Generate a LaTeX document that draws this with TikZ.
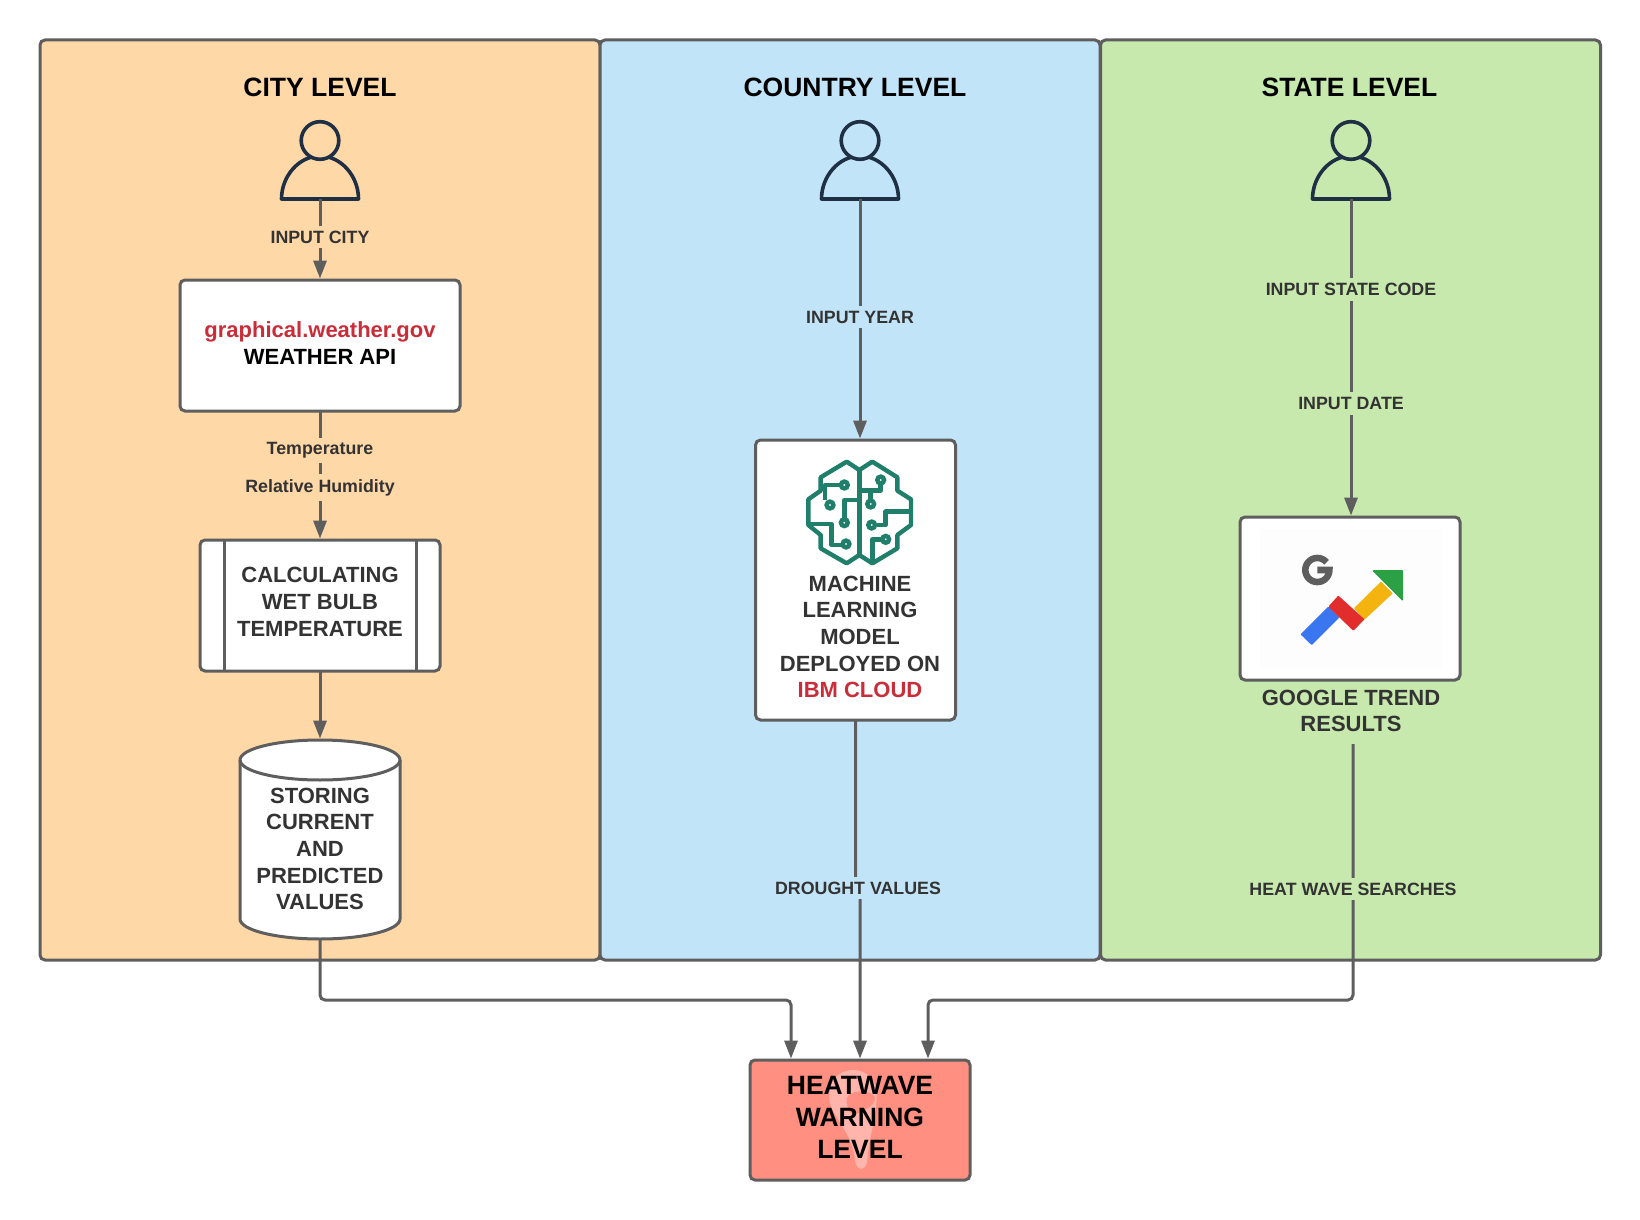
\documentclass[tikz,border=0pt]{standalone}
\usepackage{fontspec}
\setmainfont{Liberation Sans}
\usetikzlibrary{arrows.meta}
\definecolor{edgegray}{HTML}{5E5E5E}
\definecolor{txtdark}{HTML}{333333}
\definecolor{redtxt}{HTML}{C92D39}
\definecolor{pnlorange}{HTML}{FFD8A8}
\definecolor{pnlblue}{HTML}{C2E4F8}
\definecolor{pnlgreen}{HTML}{C7E9AD}
\definecolor{heatfill}{HTML}{FF8F80}
\definecolor{pinfill}{HTML}{FFB5AC}
\definecolor{personline}{HTML}{1F3044}
\definecolor{brainteal}{HTML}{1F7F6B}
\definecolor{gblue}{HTML}{3A76F0}
\definecolor{gyellow}{HTML}{F4B410}
\definecolor{gred}{HTML}{E22D2D}
\definecolor{ggreen}{HTML}{2CA044}
\definecolor{offwhite}{HTML}{FDFDFD}
\newcommand{\personicon}[3]{%
  \draw[personstroke,line join=round] (#1-38.5,199) .. controls (#1-38.5,176) and (#1-21,156) .. (#1,156) .. controls (#1+21,156) and (#1+38.5,176) .. (#1+38.5,199) -- cycle;
  \draw[personstroke,fill=#2] (#1,140.5) circle[radius=9.4pt];
  \coordinate (#3) at (#1,199);
}
\tikzset{
  x=0.5pt,y=-0.5pt,
  outlined/.style={draw=edgegray,line width=1.5pt,rounded corners=2.5pt,inner sep=0pt,outer sep=0pt},
  panelbox/.style={outlined},
  whitebox/.style={outlined,fill=white},
  personstroke/.style={draw=personline,line width=1.8pt},
  title/.style={font=\fontsize{13.25}{15}\selectfont\bfseries,text=black,inner sep=0pt},
  boxtext/.style={font=\fontsize{11}{13.35}\selectfont\bfseries,text=txtdark,align=center,inner sep=0pt},
  heattext/.style={font=\fontsize{13.25}{16}\selectfont\bfseries,text=black,align=center,inner sep=0pt},
  edgelabel/.style={font=\fontsize{8.9}{10}\selectfont\bfseries,text=txtdark,inner xsep=1pt,inner ysep=2.5pt},
  flow/.style={draw=edgegray,line width=1.5pt,rounded corners=2.5pt,-{Triangle[length=9pt,width=6.5pt]},shorten >=0.7pt},
  plainflow/.style={draw=edgegray,line width=1.5pt},
  braintrace/.style={draw=brainteal,line width=2.2pt,line join=round},
  braindot/.style={draw=brainteal,line width=2.2pt,fill=white},
  gpiece/.style={line width=0.8pt,line join=round},
}
\begin{document}
\begin{tikzpicture}
\useasboundingbox (0,0) rectangle (1640,1220);
\fill[white] (0,0) rectangle (1640,1220);
% panels
\node[panelbox,fill=pnlorange,minimum width=280pt,minimum height=460pt] (city) at (320,500) {};
\node[panelbox,fill=pnlblue,minimum width=250pt,minimum height=460pt] (country) at (850,500) {};
\node[panelbox,fill=pnlgreen,minimum width=250pt,minimum height=460pt] (state) at (1350.5,500) {};
% titles
\node[title] (tcity) at (320,87.5) {CITY LEVEL};
\node[title] (tcountry) at (855,87.5) {COUNTRY LEVEL};
\node[title] (tstate) at (1349.5,87.5) {STATE LEVEL};
% boxes
\node[whitebox,minimum width=140pt,minimum height=65.5pt] (api) at (320,345.5) {};
\node[whitebox,minimum width=120pt,minimum height=65.5pt] (wet) at (320,605.5) {};
\draw[plainflow] (224,540) -- (224,671);
\draw[plainflow] (416,540) -- (416,671);
\node[whitebox,minimum width=100pt,minimum height=140pt] (ml) at (855.5,580) {};
\node[whitebox,minimum width=110pt,minimum height=81.5pt] (gt) at (1350,598.5) {};
\node[whitebox,fill=heatfill,minimum width=110pt,minimum height=60pt] (heat) at (860,1120) {};
% cylinder
\node[inner sep=0pt,outer sep=0pt,minimum width=80pt,minimum height=99.5pt] (cyl) at (320,839.5) {};
\draw[outlined,fill=white,rounded corners=0pt] (240,760) .. controls (240,749) and (276,740) .. (320,740) .. controls (364,740) and (400,749) .. (400,760) -- (400,919) .. controls (400,930) and (364,939) .. (320,939) .. controls (276,939) and (240,930) .. (240,919) -- cycle;
\draw[outlined,rounded corners=0pt] (240,760) .. controls (240,771) and (276,780) .. (320,780) .. controls (364,780) and (400,771) .. (400,760);
% persons
\personicon{320}{pnlorange}{pcity}
\personicon{860}{pnlblue}{pcountry}
\personicon{1351}{pnlgreen}{pstate}
% connectors
\coordinate (mltop) at (860,440);
\coordinate (gttop) at (1351,517);
\coordinate (gtbottom) at (1353,744);
\coordinate (jog) at (855.5,887);
\coordinate (jogb) at (860,887);
\coordinate (lefttarget) at (791,1060);
\coordinate (righttarget) at (928,1060);
\draw[flow] (pcity) -- (api.north);
\draw[flow] (api.south) -- (wet.north);
\draw[flow] (wet.south) -- (cyl.north);
\draw[flow] (pcountry) -- (mltop);
\draw[flow] (pstate) -- (gttop);
\draw[flow] (ml.south) -- (jog) -- (jogb) -- (heat.north);
\draw[flow] (cyl.south) -- (320,1000) -- (791,1000) -- (lefttarget);
\draw[flow] (gtbottom) -- (1353,1000) -- (928,1000) -- (righttarget);
% connector labels
\node[edgelabel,fill=pnlorange] (l1) at (320,237) {INPUT CITY};
\node[edgelabel,fill=pnlorange] (l2) at (320,450.5) {Temperature};
\node[edgelabel,fill=pnlorange] (l3) at (320,487.5) {Relative Humidity};
\node[edgelabel,fill=pnlblue] (l4) at (860,317) {INPUT YEAR};
\node[edgelabel,fill=pnlblue] (l5) at (858,888) {DROUGHT VALUES};
\node[edgelabel,fill=pnlgreen] (l6) at (1351,289.5) {INPUT STATE CODE};
\node[edgelabel,fill=pnlgreen] (l7) at (1351,403.5) {INPUT DATE};
\node[edgelabel,fill=pnlgreen] (l8) at (1353,889) {HEAT WAVE SEARCHES};
% box texts
\node[boxtext] (tapi) at (320,343) {\textcolor{redtxt}{graphical.weather.gov}\\\textcolor{black}{WEATHER API}};
\node[boxtext] (twet) at (320,602) {CALCULATING\\WET BULB\\TEMPERATURE};
\node[boxtext] (tcyl) at (320,849) {STORING\\CURRENT\\AND\\PREDICTED\\VALUES};
\node[boxtext] (tml) at (860,637) {MACHINE\\LEARNING\\MODEL\\DEPLOYED ON\\\textcolor{redtxt}{IBM CLOUD}};
\node[boxtext] (tgt) at (1351,711) {GOOGLE TREND\\RESULTS};
% brain icon
\begin{scope}[shift={(720,420)},x=0.16667pt,y=-0.16667pt]
\draw[braintrace] (418,150) -- (380,125) -- (302,172) -- (302,212) -- (265,238) -- (265,315) -- (302,345) -- (302,385) -- (380,430) -- (418,405) -- (457,430) -- (532,385) -- (532,345) -- (573,315) -- (573,238) -- (532,212) -- (532,172) -- (457,125) -- cycle;
\draw[braintrace] (418,150) -- (418,405);
\draw[braintrace] (360,195) -- (315,195) -- (315,240);
\draw[braintrace] (373,295) -- (373,240) -- (418,240);
\draw[braintrace] (265,312) -- (335,312) -- (335,375) -- (365,375);
\draw[braintrace] (482,194) -- (482,212) -- (418,212);
\draw[braintrace] (452,212) -- (452,238);
\draw[braintrace] (470,315) -- (497,315) -- (497,275) -- (573,275);
\draw[braintrace] (483,358) -- (458,358) -- (458,422);
\foreach \cx/\cy in {373/195,330/255,373/308,378/372,482/180,452/252,455/315,497/358}
  \draw[braindot] (\cx,\cy) circle[radius=1.7pt];
\end{scope}
% google trends icon
\begin{scope}[shift={(1220,500)},x=0.16667pt,y=-0.16667pt]
\fill[offwhite] (120,88) rectangle (665,505);
\draw[draw=edgegray,line width=3.3pt] plot[domain=40:360,samples=40] ({292+36*cos(\x)},{210-36*sin(\x)}) -- (292,210);
\filldraw[gpiece,fill=gblue,draw=gblue] (245,403) -- (325,323) -- (355,352) -- (275,432) -- cycle;
\filldraw[gpiece,fill=gyellow,draw=gyellow] (405,325) -- (483,248) -- (515,280) -- (433,356) -- cycle;
\filldraw[gpiece,fill=gred,draw=gred] (328,320) -- (355,290) -- (430,358) -- (400,389) -- cycle;
\filldraw[gpiece,fill=ggreen,draw=ggreen] (461,213) -- (547,213) -- (547,299) -- cycle;
\end{scope}
% pin watermark and heat text
\begin{scope}[shift={(720,1040)},x=0.16667pt,y=-0.16667pt]
\fill[pinfill,even odd rule] (400,90) .. controls (350,90) and (325,130) .. (328,175) .. controls (330,225) and (395,270) .. (405,360) .. controls (408,395) and (440,395) .. (442,360) .. controls (445,300) and (470,230) .. (470,165) .. controls (470,120) and (440,90) .. (400,90) -- cycle
 (380,175) .. controls (385,150) and (450,145) .. (465,170) .. controls (470,200) and (420,220) .. (395,225) .. controls (385,210) and (378,195) .. (380,175) -- cycle;
\end{scope}
\node[heattext] (theat) at (860,1117) {HEATWAVE\\WARNING\\LEVEL};
\end{tikzpicture}
\end{document}
